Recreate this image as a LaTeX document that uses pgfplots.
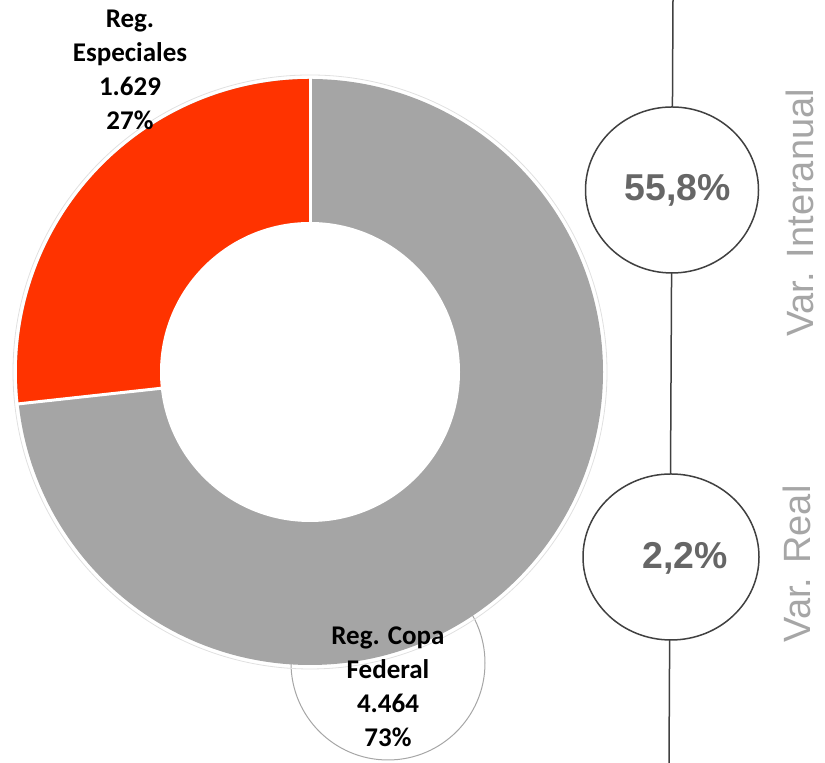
\documentclass[border=0pt]{standalone}
\usepackage{pgfplots}
\usepackage{pgfplotstable}
\pgfplotsset{compat=1.18}
\usepackage{fontspec}
\setmainfont{Carlito}
\newfontfamily\arialf{Liberation Sans}
\definecolor{slicered}{HTML}{FF3300}
\definecolor{slicegray}{HTML}{A5A5A5}
\definecolor{valgray}{HTML}{666666}
\definecolor{labgray}{HTML}{A6A6A6}
\definecolor{linegray}{HTML}{404040}

% donut slices
\pgfplotstableread{
name value
Especiales 1629
Copa 4464
}\slices

\begin{document}
\begin{tikzpicture}
\pgfplotstablegetelem{0}{value}\of\slices \let\va\pgfplotsretval
\pgfplotstablegetelem{1}{value}\of\slices \let\vb\pgfplotsretval
\pgfmathsetmacro\frac{\va/(\va+\vb)}
\pgfmathsetmacro\aend{90+360*\frac}
\begin{axis}[
    x=0.5pt, y=0.5pt,
    xmin=0, xmax=825, ymin=0, ymax=763,
    hide axis, clip=false, scale only axis]
  \coordinate (bl) at (axis cs:0,0);
  \coordinate (tr) at (axis cs:825,763);
  % label bubble under the donut
  \draw[gray!70, line width=0.5pt] (axis cs:388,100) circle[radius=48.5pt];
  % donut
  \fill[slicegray] (axis cs:310,391) circle[radius=146.5pt];
  \fill[slicered] (axis cs:310,391) -- ++(90:146.5pt)
      arc[start angle=90, end angle=\aend, radius=146.5pt] -- cycle;
  \draw[white, line width=1.5pt] (axis cs:310,391) -- ++(90:147pt);
  \draw[white, line width=1.5pt] (axis cs:310,391) -- ++(\aend:147pt);
  \fill[white] (axis cs:310,391) circle[radius=74.5pt];
  \draw[white, line width=1pt] (axis cs:310,391) circle[radius=74.5pt];
  \draw[black!12, line width=0.4pt] (axis cs:310,391) circle[radius=148.5pt];
  % labels
  \node[align=center, font=\bfseries\fontsize{13.5}{17}\selectfont]
    at (axis cs:130,693) {Reg.\\Especiales\\1.629\\27\%};
  \node[align=center, font=\bfseries\fontsize{13.5}{17}\selectfont]
    at (axis cs:388,76) {Reg. Copa\\Federal\\4.464\\73\%};
  % variation bubbles
  \draw[linegray, line width=0.75pt] (axis cs:673,763) -- (axis cs:669,0);
  \draw[linegray, line width=0.75pt, fill=white]
    (axis cs:672,573) ellipse[x radius=43.25pt, y radius=41.5pt];
  \draw[linegray, line width=0.75pt, fill=white]
    (axis cs:671,206) ellipse[x radius=44pt, y radius=41.5pt];
  \node[font=\arialf\bfseries\fontsize{18.7}{22}\selectfont, text=valgray]
    at (axis cs:678,573) {55,8\%};
  \node[font=\arialf\bfseries\fontsize{18.7}{22}\selectfont, text=valgray]
    at (axis cs:685,205) {2,2\%};
  \node[rotate=90, font=\arialf\fontsize{19}{22}\selectfont, text=labgray]
    at (axis cs:800,550) {Var. Interanual};
  \node[rotate=90, font=\arialf\fontsize{19}{22}\selectfont, text=labgray]
    at (axis cs:797,199) {Var. Real};
\end{axis}
\pgfresetboundingbox
\path (bl) rectangle (tr);
\end{tikzpicture}
\end{document}
